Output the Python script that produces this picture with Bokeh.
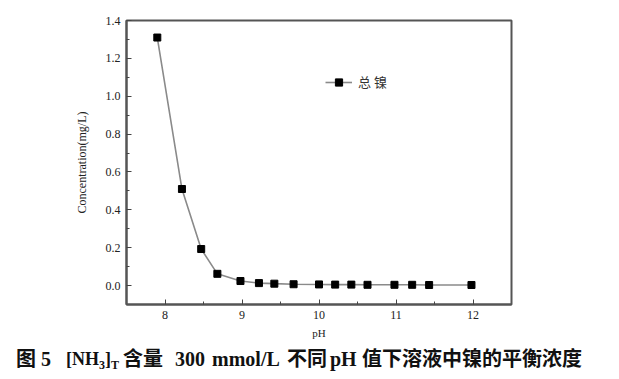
from bokeh.plotting import figure
from bokeh.layouts import column
from bokeh.models import FixedTicker, Legend, LegendItem, NumeralTickFormatter, Div
from bokeh.embed import file_html
from bokeh.resources import INLINE

# ---- data ----
ph = [7.9, 8.22, 8.47, 8.68, 8.98, 9.22, 9.42, 9.67, 10.0, 10.21, 10.42, 10.63, 10.98, 11.21, 11.43, 11.98]
conc = [1.31, 0.51, 0.193, 0.062, 0.024, 0.013, 0.01, 0.007, 0.006, 0.005, 0.005, 0.004, 0.004, 0.004, 0.003, 0.003]
x_ticks = [8, 9, 10, 11, 12]
x_minor = [8.5, 9.5, 10.5, 11.5]
y_ticks = [0.0, 0.2, 0.4, 0.6, 0.8, 1.0, 1.2, 1.4]
y_minor = [0.1, 0.3, 0.5, 0.7, 0.9, 1.1, 1.3]
series_name = "总 镍"
x_title = "pH"
y_title = "Concentration(mg/L)"
SUB = '<sub style="font-size:12px;vertical-align:-4px;line-height:0;">'
caption_parts = ["图 5", "[NH" + SUB + "3</sub>]" + SUB + "T</sub>", "含量", "300", "mmol/L", "不同", "pH", "值下溶液中镍的平衡浓度"]

SERIF = "Liberation Serif"

p = figure(width=619, height=342, x_range=(7.5, 12.5), y_range=(-0.1, 1.4),
           output_backend="svg", toolbar_location=None,
           min_border_left=126, min_border_right=108, min_border_top=20, min_border_bottom=38)
p.grid.visible = False
p.background_fill_color = "white"
p.border_fill_color = "white"
p.outline_line_color = "#555555"
p.outline_line_width = 2

ln = p.line(ph, conc, line_color="#8a8a8a", line_width=1.6)
sc = p.scatter(ph, conc, marker="square", size=7, fill_color="black", line_color="black")

for ax in p.axis:
    ax.axis_line_color = "#555555"
    ax.axis_line_width = 2
    ax.major_tick_in = 5
    ax.major_tick_out = 0
    ax.minor_tick_in = 3
    ax.minor_tick_out = 0
    ax.major_tick_line_color = "#444444"
    ax.minor_tick_line_color = "#444444"
    ax.major_label_text_font = SERIF
    ax.major_label_text_font_size = "12px"
    ax.major_label_text_color = "#222222"
    ax.axis_label_text_font = SERIF
    ax.axis_label_text_font_style = "normal"
    ax.axis_label_text_color = "#222222"

p.xaxis.ticker = FixedTicker(ticks=x_ticks, minor_ticks=x_minor)
p.yaxis.ticker = FixedTicker(ticks=y_ticks, minor_ticks=y_minor)
p.yaxis.formatter = NumeralTickFormatter(format="0.0")
p.xaxis.major_label_standoff = 6
p.yaxis.major_label_standoff = 6
p.xaxis.axis_label = x_title
p.yaxis.axis_label = y_title
p.xaxis.axis_label_text_font_size = "11px"
p.yaxis.axis_label_text_font_size = "12px"
p.xaxis.axis_label_standoff = 5
p.yaxis.axis_label_standoff = 14

legend = Legend(items=[LegendItem(label=series_name, renderers=[ln, sc])],
                location=(199, 213), padding=0, margin=0, spacing=0,
                glyph_width=27, glyph_height=18, label_standoff=6,
                border_line_color=None, background_fill_alpha=0,
                label_text_font="Noto Sans CJK SC", label_text_font_size="13px",
                label_text_color="#333333")
p.add_layout(legend, "center")

# ---- caption (HTML so that subscripts are real) ----
cap_left = [16, 66, 123, 175, 212, 287, 330, 362]
cap_size = [20, 18, 20, 20, 20, 20, 20, 20]
spans = "".join(
    f'<span style="position:absolute;left:{x}px;top:7px;white-space:pre;font-size:{s}px;">{t}</span>'
    for x, s, t in zip(cap_left, cap_size, caption_parts)
)
cap_html = (
    '<div style="position:relative;width:619px;height:37px;'
    "font-family:'Liberation Serif','Noto Sans CJK SC',serif;font-weight:bold;"
    'font-size:20px;line-height:20px;color:#111111;">' + spans + '</div>'
)
cap = Div(text=cap_html, width=619, height=37, margin=0)

layout = column(p, cap, spacing=0)
open("out.html", "w").write(file_html(layout, INLINE))
